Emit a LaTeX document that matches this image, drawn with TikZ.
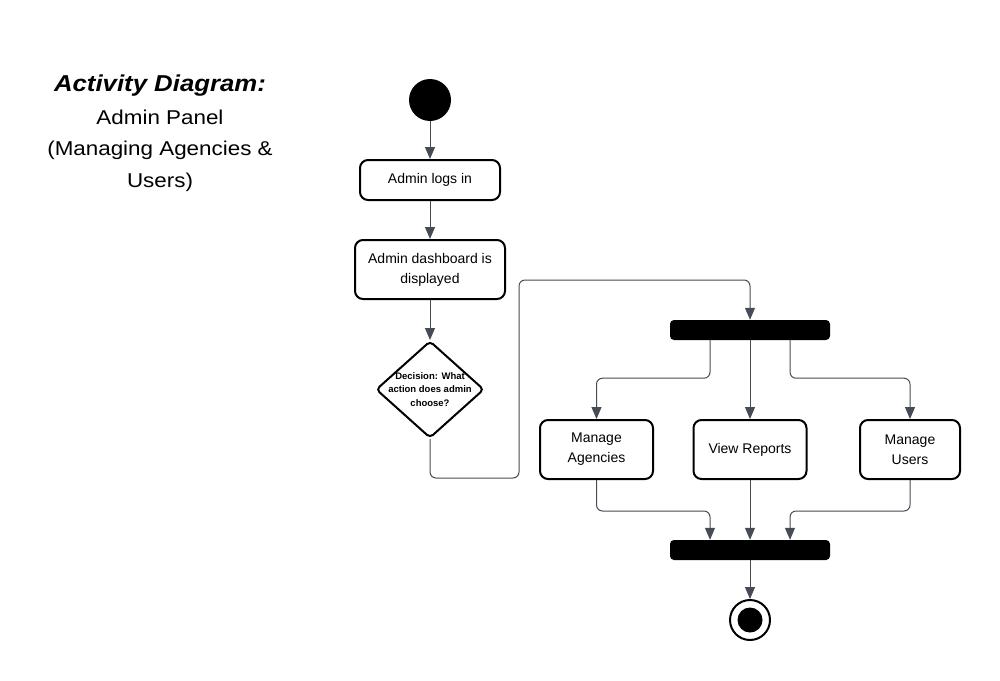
\documentclass[tikz,border=0pt]{standalone}
\usepackage{fontspec}
\setmainfont{Liberation Sans}
\newfontfamily\titlefont[FakeStretch=1.12]{Liberation Sans}
\usetikzlibrary{arrows.meta,shapes.geometric}
\definecolor{conncol}{RGB}{70,75,85}
\tikzset{
  every node/.style={font=\fontsize{14}{20}\selectfont},
  actbox/.style={draw=black, line width=2pt, rounded corners=8pt, align=center, inner sep=0pt, fill=white},
  bar/.style={fill=black, rounded corners=4pt, minimum width=160pt, minimum height=20pt, inner sep=0pt},
  conn/.style={draw=conncol, line width=1pt, rounded corners=6pt, -{Triangle[length=12pt,width=10pt]}},
}
\begin{document}
\begin{tikzpicture}[x=1pt,y=-1pt]
\useasboundingbox (0,0) rectangle (1000,680);
% title
\node[font=\titlefont\fontsize{23}{28}\selectfont\bfseries\itshape] (title) at (160,86) {Activity Diagram:};
\node[align=center, font=\titlefont\fontsize{20}{31.5}\selectfont] (subtitle) at (160,150.5) {Admin Panel\\(Managing Agencies \&\\Users)};
% nodes
\node[circle, fill=black, minimum size=42pt, inner sep=0pt] (start) at (430,100) {};
\node[actbox, minimum width=140pt, minimum height=40pt] (login) at (430,180) {Admin logs in};
\node[actbox, minimum width=150pt, minimum height=59pt] (dash) at (430,269.5) {Admin dashboard is\\displayed};
\node[diamond, draw=black, line width=2pt, rounded corners=4pt, minimum width=108pt, minimum height=97pt, inner sep=0pt] (dec) at (430,389.5) {};
\node[align=center, font=\fontsize{9.5}{13.8}\selectfont\bfseries] (dectext) at (dec) {Decision: What\\action does admin\\choose?};
\node[bar] (fork) at (750,330) {};
\node[actbox, minimum width=113pt, minimum height=59pt] (agen) at (596.5,449.5) {Manage\\Agencies};
\node[actbox, minimum width=113pt, minimum height=59pt] (rep) at (750,449.5) {View Reports};
\node[actbox, minimum width=100pt, minimum height=59pt] (users) at (910,449.5) {Manage\\Users};
\node[bar] (join) at (750,550) {};
\node[circle, draw=black, line width=2pt, minimum size=40pt, inner sep=0pt] (end) at (750,620) {};
\node[circle, fill=black, minimum size=25pt, inner sep=0pt] (endin) at (end) {};
% connectors
\coordinate (c1) at (519,478);
\coordinate (c2) at (519,280);
\draw[conn] (start) -- (login);
\draw[conn] (login) -- (dash);
\draw[conn] (dash) -- (dec);
\draw[conn] (dec.south) |- (c1) -- (c2) -| (fork.north);
\draw[conn] ([xshift=-40pt]fork.south) -- ++(0,38) -| (agen.north);
\draw[conn] (fork.south) -- (rep.north);
\draw[conn] ([xshift=40pt]fork.south) -- ++(0,38) -| (users.north);
\draw[conn] (agen.south) -- ++(0,31) -| ([xshift=-40pt]join.north);
\draw[conn] (rep.south) -- (join.north);
\draw[conn] (users.south) -- ++(0,31) -| ([xshift=40pt]join.north);
\draw[conn] (join) -- (end);
\end{tikzpicture}
\end{document}
